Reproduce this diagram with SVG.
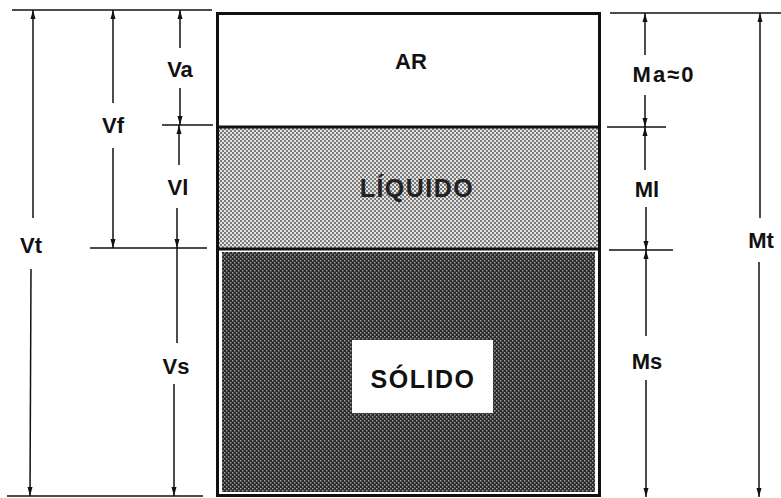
<svg xmlns="http://www.w3.org/2000/svg" width="781" height="498" viewBox="0 0 781 498">
<style>
.lbl{font-family:"Liberation Sans",Arial,sans-serif;font-weight:bold;font-size:22px;fill:#111;text-anchor:middle}
.dim{stroke:#111;stroke-width:1.5;fill:none}
.arr{stroke:#111;stroke-width:1.5;fill:none;marker-end:url(#ah)}
.frame{fill:none;stroke:#111;stroke-width:3}
</style>
<defs>
<marker id="ah" markerUnits="userSpaceOnUse" markerWidth="10" markerHeight="6" refX="9" refY="3" orient="auto">
<path d="M0,0.5 L9,3 L0,5.5 z" fill="#111"/>
</marker>
<pattern id="liq" patternUnits="userSpaceOnUse" width="4" height="4">
<rect width="4" height="4" fill="#e4e4e4"/>
<rect x="0" y="0" width="2" height="2" fill="#7a7a7a"/>
<rect x="2" y="2" width="2" height="2" fill="#7a7a7a"/>
</pattern>
<pattern id="sol" patternUnits="userSpaceOnUse" width="4" height="4">
<rect width="4" height="4" fill="#2a2a2a"/>
<rect x="0" y="0" width="1.5" height="1.5" fill="#9a9a9a"/>
<rect x="2" y="2" width="1.5" height="1.5" fill="#9a9a9a"/>
</pattern>
</defs>
<rect width="781" height="498" fill="#fff"/>

<g id="ar">
<rect x="218" y="14" width="381" height="113" fill="#fff"/>
<text class="lbl" x="411" y="69" style="font-size:22px">AR</text>
</g>
<g id="liquido">
<rect x="219" y="128" width="379" height="120" fill="url(#liq)"/>
<text class="lbl" x="417" y="197" style="fill:#222;font-size:25px;letter-spacing:1.5px">LÍQUIDO</text>
</g>
<g id="solido">
<rect x="222" y="252" width="373" height="240" fill="url(#sol)"/>
<rect x="352" y="340" width="141" height="73" fill="#fff"/>
<text class="lbl" x="423" y="388" style="font-size:25px;letter-spacing:1.5px">SÓLIDO</text>
</g>
<g id="frame">
<rect class="frame" x="217.5" y="13.5" width="382" height="482"/>
<line x1="217" y1="127" x2="600" y2="127" stroke="#111" stroke-width="3"/>
<line x1="217" y1="249" x2="600" y2="249" stroke="#111" stroke-width="3"/>
</g>

<g id="connectors">
<line class="dim" x1="12" y1="10" x2="212" y2="10"/>
<line class="dim" x1="162" y1="125" x2="213" y2="125"/>
<line class="dim" x1="90" y1="248" x2="207" y2="248"/>
<line class="dim" x1="7" y1="496" x2="203" y2="496"/>
<line class="arr" x1="33" y1="218" x2="33" y2="10"/>
<line class="arr" x1="31" y1="269" x2="30" y2="496"/>
<line class="arr" x1="113" y1="103" x2="113" y2="10"/>
<line class="arr" x1="113" y1="148" x2="113" y2="248"/>
<line class="arr" x1="180" y1="48" x2="180" y2="10"/>
<line class="arr" x1="180" y1="88" x2="180" y2="125"/>
<line class="arr" x1="179" y1="165" x2="179" y2="125"/>
<line class="arr" x1="177" y1="208" x2="177" y2="248"/>
<line class="dim" x1="177" y1="248" x2="177" y2="343"/>
<line class="arr" x1="174" y1="384" x2="174" y2="496"/>
<line class="dim" x1="610" y1="13" x2="781" y2="13"/>
<line class="dim" x1="607" y1="127" x2="666" y2="127"/>
<line class="dim" x1="609" y1="250" x2="673" y2="250"/>
<line class="arr" x1="645" y1="55" x2="645" y2="13"/>
<line class="arr" x1="645" y1="95" x2="645" y2="127"/>
<line class="arr" x1="645" y1="170" x2="645" y2="127"/>
<line class="arr" x1="646" y1="207" x2="646" y2="250"/>
<line class="arr" x1="646" y1="336" x2="646" y2="250"/>
<line class="arr" x1="646" y1="380" x2="646" y2="497"/>
<line class="arr" x1="760" y1="218" x2="760" y2="13"/>
<line class="arr" x1="759" y1="262" x2="759" y2="497"/>
</g>

<g id="labels">
<text class="lbl" x="180" y="77">Va</text>
<text class="lbl" x="113" y="133">Vf</text>
<text class="lbl" x="178" y="195">Vl</text>
<text class="lbl" x="31" y="253">Vt</text>
<text class="lbl" x="176" y="374">Vs</text>
<text class="lbl" x="664" y="82" style="letter-spacing:2px">Ma≈0</text>
<text class="lbl" x="647" y="197">Ml</text>
<text class="lbl" x="647" y="369">Ms</text>
<text class="lbl" x="761" y="248">Mt</text>
</g>
</svg>
